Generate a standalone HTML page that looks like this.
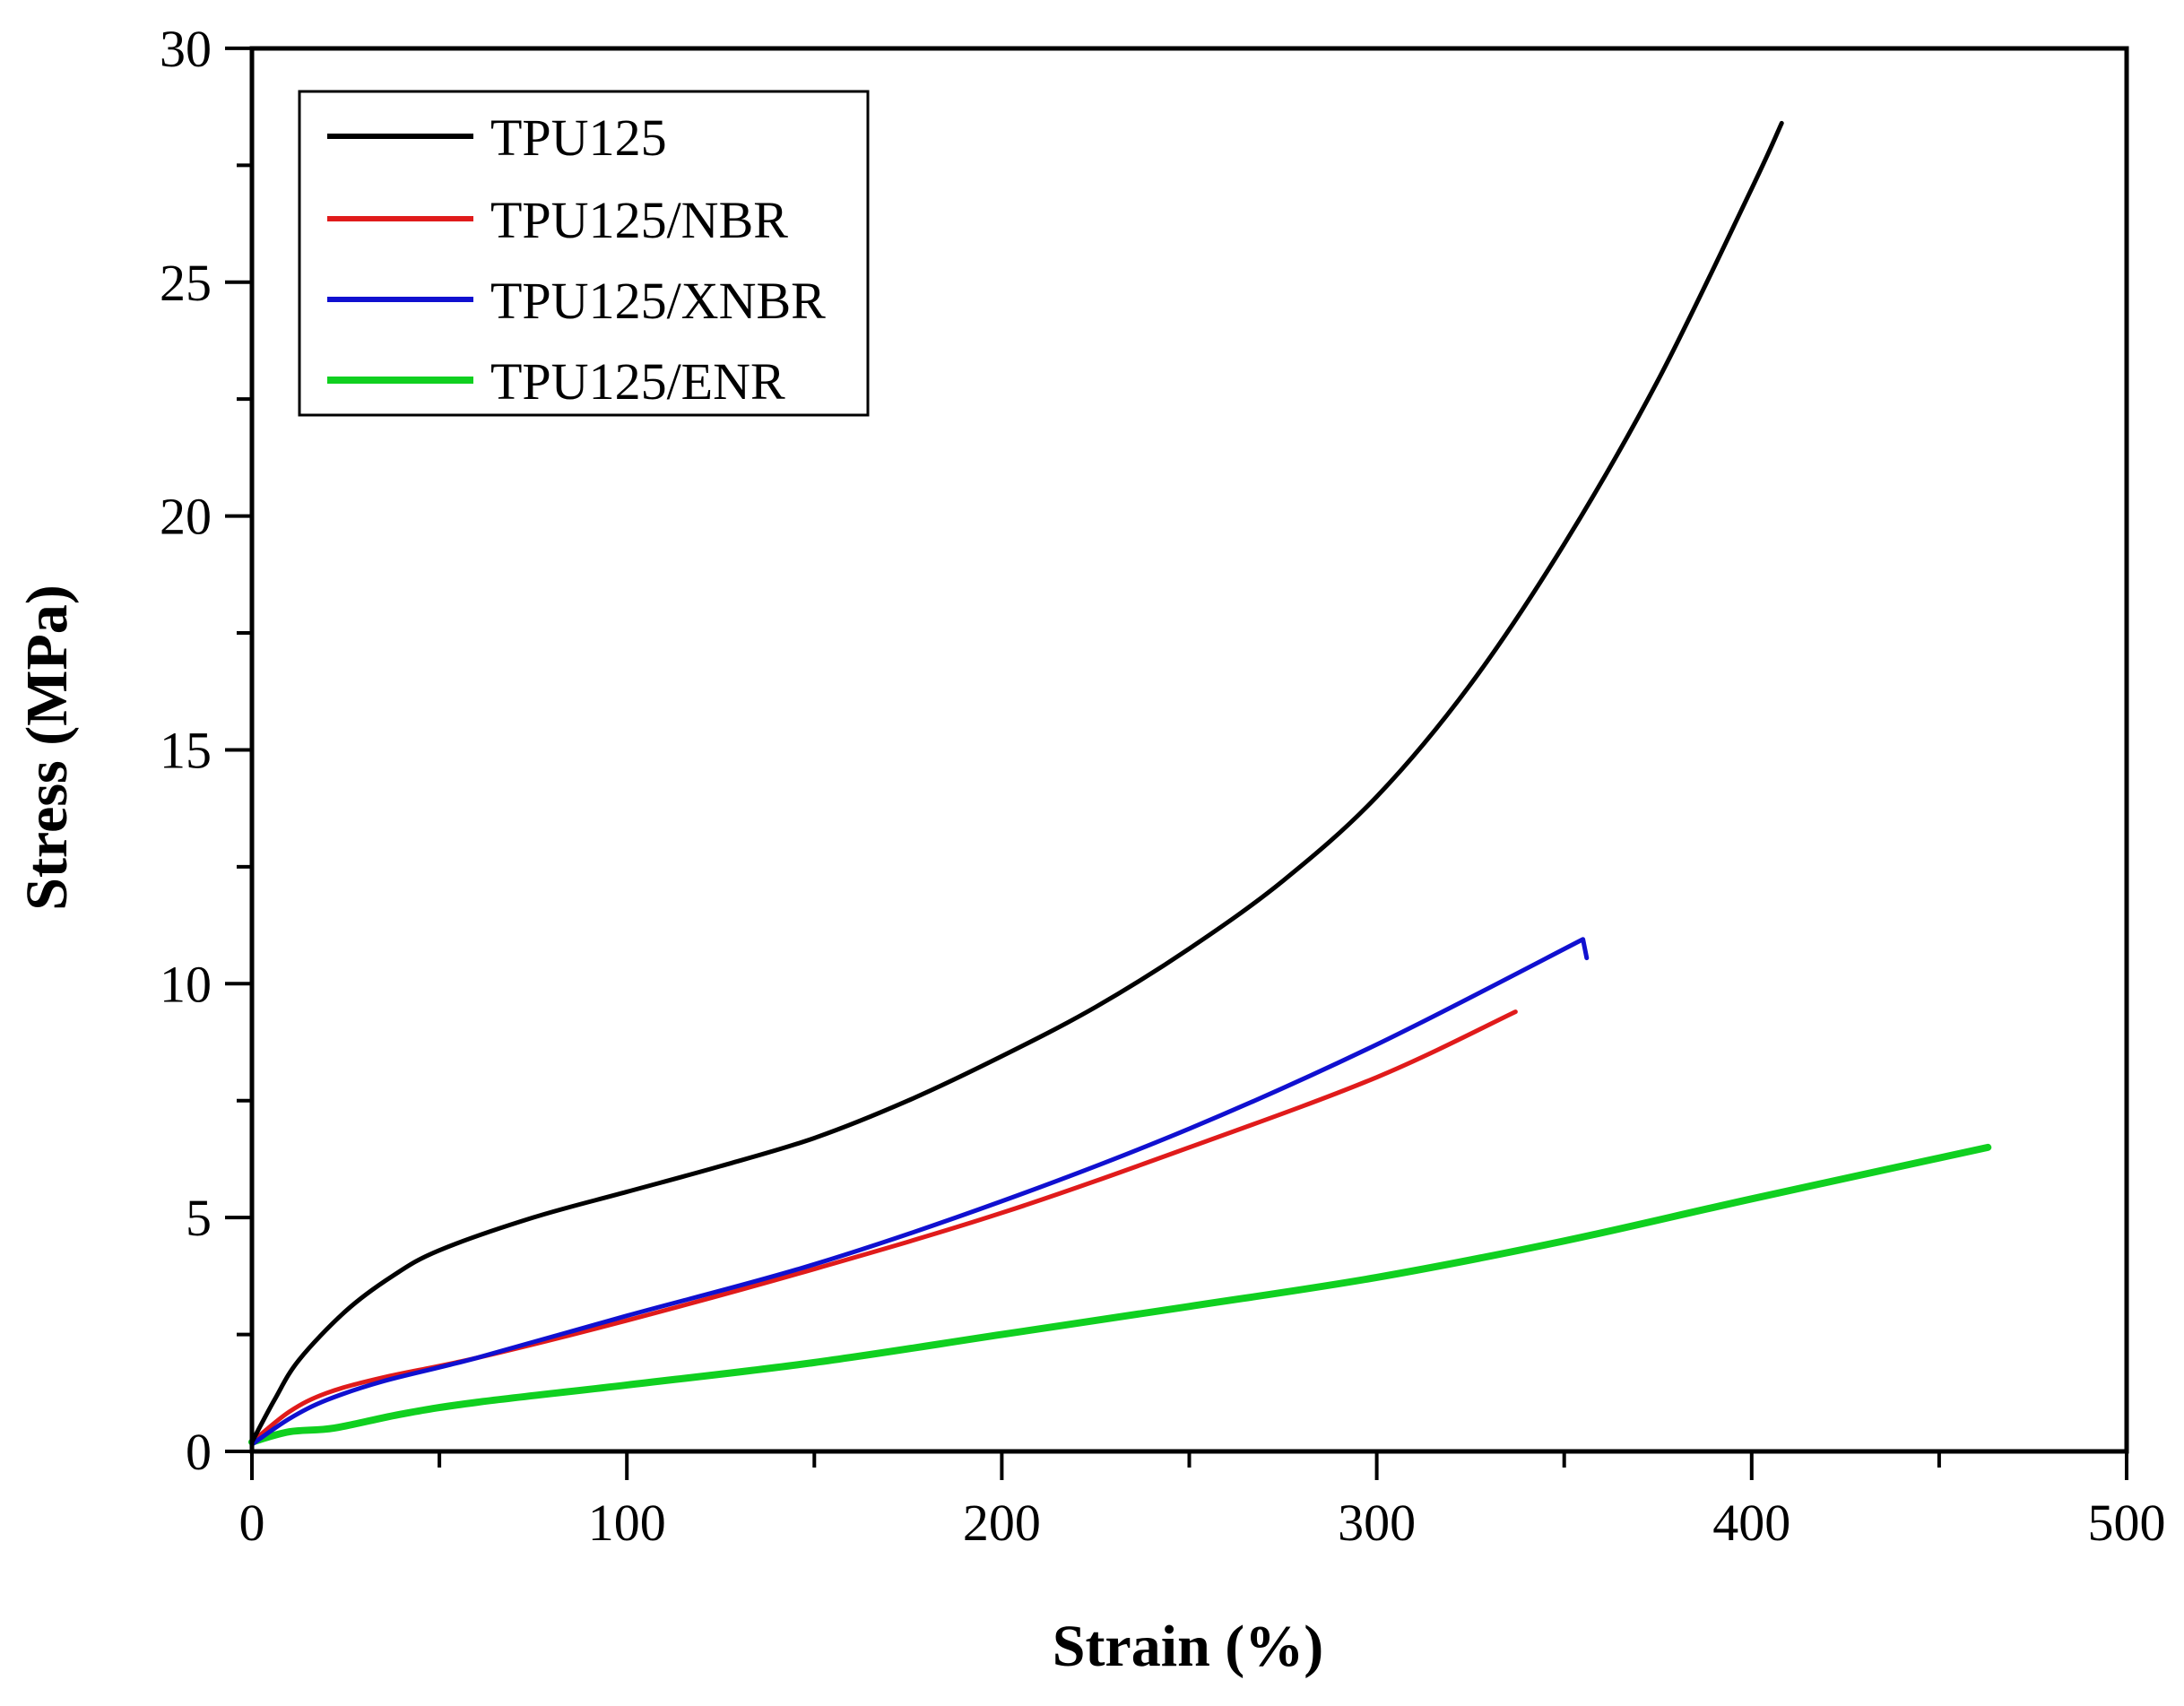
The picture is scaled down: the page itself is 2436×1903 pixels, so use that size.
<!DOCTYPE html>
<html><head><style>
html,body{margin:0;padding:0;background:#fff;}
svg{display:block;}
text{font-family:"Liberation Serif",serif;fill:#000;}
</style></head><body>
<svg id="s" width="2436" height="1903" viewBox="0 0 2436 1903" xmlns="http://www.w3.org/2000/svg">
<g id="ticks" stroke="#000" stroke-width="4"></g>
<g id="curves" fill="none" stroke-linejoin="round" stroke-linecap="round"></g>
<rect x="281" y="54" width="2091" height="1565" fill="none" stroke="#000" stroke-width="5"/>
<g id="labels" font-size="58"></g>
<text x="1325" y="1858" font-size="66" font-weight="bold" text-anchor="middle">Strain (%)</text>
<text transform="translate(74,834) rotate(-90)" font-size="66" font-weight="bold" text-anchor="middle">Stress (MPa)</text>
<rect x="334" y="102" width="634" height="361" fill="#fff" stroke="#000" stroke-width="3"/>
<g stroke-width="6">
<line x1="365" y1="152" x2="528" y2="152" stroke="#000"/>
<line x1="365" y1="244" x2="528" y2="244" stroke="#e01b1b"/>
<line x1="365" y1="334" x2="528" y2="334" stroke="#1010d0"/>
<line x1="365" y1="424" x2="528" y2="424" stroke="#10d020" stroke-width="8"/>
</g>
<g font-size="58">
<text x="547" y="173">TPU125</text>
<text x="547" y="265">TPU125/NBR</text>
<text x="547" y="355">TPU125/XNBR</text>
<text x="547" y="445">TPU125/ENR</text>
</g>
</svg>
<script>
var NS="http://www.w3.org/2000/svg";
function X(v){return 281+v*4.182;}
function Y(v){return 1619-v*52.17;}
function el(p,t,a,txt){var e=document.createElementNS(NS,t);for(var k in a)e.setAttribute(k,a[k]);if(txt!=null)e.textContent=txt;p.appendChild(e);return e;}
var tk=document.getElementById('ticks'),lb=document.getElementById('labels');
for(var i=0;i<=10;i++){var v=i*50;el(tk,'line',{x1:X(v),x2:X(v),y1:1619,y2:1619+(i%2==0?32:18)});
 if(i%2==0)el(lb,'text',{x:X(v),y:1718,'text-anchor':'middle'},String(v));}
for(var i=0;i<=12;i++){var v=i*2.5;el(tk,'line',{x1:281,x2:281-(i%2==0?30:17),y1:Y(v),y2:Y(v)});
 if(i%2==0)el(lb,'text',{x:236,y:Y(v)+20,'text-anchor':'end'},String(v));}
function path(pts){var p=pts.map(function(a){return [X(a[0]),Y(a[1])];});
 var d="M"+p[0][0]+","+p[0][1];
 for(var i=0;i<p.length-1;i++){var p0=p[i-1]||p[i],p1=p[i],p2=p[i+1],p3=p[i+2]||p2;
  var c1=[p1[0]+(p2[0]-p0[0])/6,p1[1]+(p2[1]-p0[1])/6],c2=[p2[0]-(p3[0]-p1[0])/6,p2[1]-(p3[1]-p1[1])/6];
  d+=" C"+c1+" "+c2+" "+p2;}
 return d;}
var cv=document.getElementById('curves');
var green=[[0,0.2],[10,0.42],[22,0.5],[40,0.8],[60,1.05],[100,1.42],[150,1.9],[200,2.5],[250,3.1],[300,3.72],[350,4.5],[400,5.4],[463,6.5]];
var red=[[0,0.2],[10,0.85],[20,1.25],[35,1.58],[60,2.0],[100,2.8],[150,3.9],[200,5.1],[250,6.5],[300,8.0],[337,9.4]];
var blue=[[0,0.15],[10,0.7],[20,1.1],[35,1.5],[60,2.0],[100,2.9],[150,4.0],[200,5.35],[250,6.9],[300,8.7],[355,10.95]];
var black=[[0,0.2],[6,1.1],[12.5,1.95],[25,3.0],[37.5,3.75],[50,4.3],[75,5.0],[100,5.55],[125,6.1],[150,6.7],[175,7.5],[200,8.45],[225,9.5],[250,10.75],[275,12.2],[300,14.0],[325,16.4],[350,19.4],[375,22.9],[400,27.0],[408,28.4]];
el(cv,'path',{d:path(green),stroke:'#10d020','stroke-width':8});
el(cv,'path',{d:path(red),stroke:'#e01b1b','stroke-width':5});
el(cv,'path',{d:path(blue)+" L"+X(356)+","+Y(10.55),stroke:'#1010d0','stroke-width':5});
el(cv,'path',{d:path(black),stroke:'#000','stroke-width':5});
</script>
</body></html>
